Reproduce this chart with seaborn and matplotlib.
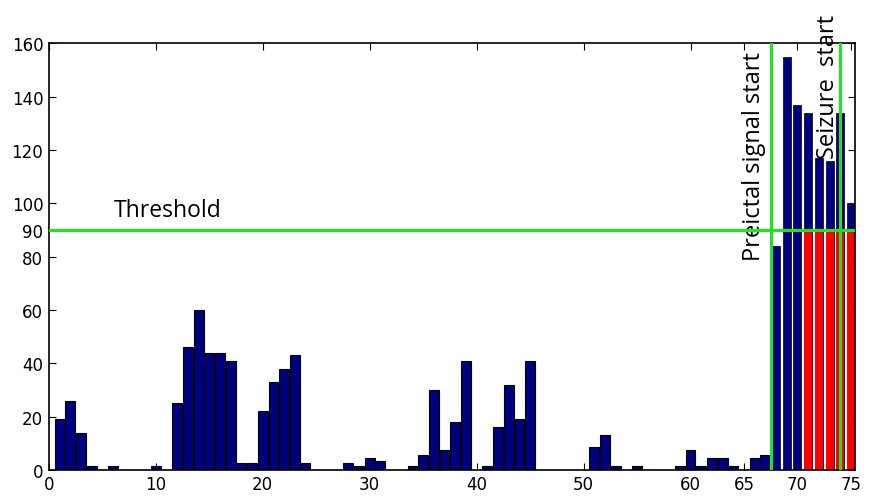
import numpy as np
import matplotlib
matplotlib.use("Agg")
import matplotlib.pyplot as plt
import seaborn as sns

# ── Data ────────────────────────────────────────────────────────────────────
positions = list(range(1, 76))
counts = [
    19, 26, 14, 1.5, 0, 1.5, 0, 0, 0, 1.5,          # 1-10
    0, 25, 46, 60, 44, 44, 41, 2.5, 2.5, 22,        # 11-20
    33, 38, 43, 2.5, 0, 0, 0, 2.5, 1.5, 4.5,        # 21-30
    3.5, 0, 0, 1.5, 5.5, 30, 7.5, 18, 41, 0,        # 31-40
    1.5, 16, 32, 19, 41, 0, 0, 0, 0, 0,             # 41-50
    8.5, 13, 1.5, 0, 1.5, 0, 0, 0, 1.5, 7.5,        # 51-60
    1.5, 4.5, 4.5, 1.5, 0, 4.5, 5.5, 84, 155, 137,  # 61-70
    134, 117, 116, 134, 100,                        # 71-75
]
threshold = 90
preictal_start = 67.5
seizure_start = 74
alarm_from = 71          # bars from here on exceed the threshold (red part)

x_ticks = [0, 10, 20, 30, 40, 50, 60, 65, 70, 75]
y_ticks = [0, 20, 40, 60, 80, 90, 100, 120, 140, 160]

BLUE = "#00007F"
RED = "#FF0000"
GREEN = "#1EE61E"

sns.set_style("white")
plt.rcParams["font.family"] = ["DejaVu Sans"]
plt.rcParams["text.color"] = "black"
plt.rcParams["xtick.color"] = "black"
plt.rcParams["ytick.color"] = "black"

fig = plt.figure(figsize=(8.89, 5.02), dpi=100)
ax = fig.add_axes([0.055, 0.062, 0.907, 0.850])

pos = np.array(positions)
val = np.array(counts, dtype=float)
early = pos < 68
late = ~early

# ── Bars ──────────────────────────────────────────────────────────────────
sns.barplot(x=pos[early], y=val[early], native_scale=True, width=0.92,
            color=BLUE, saturation=1, edgecolor="black", linewidth=0.8, ax=ax)
sns.barplot(x=pos[late], y=val[late], native_scale=True, width=0.75,
            color=BLUE, saturation=1, edgecolor="#101040", linewidth=0.6, ax=ax)
alarm = pos >= alarm_from
sns.barplot(x=pos[alarm], y=np.minimum(val[alarm], threshold), native_scale=True,
            width=0.75, color=RED, saturation=1, linewidth=0, ax=ax)

# ── Threshold & event markers ─────────────────────────────────────────────
ax.axhline(threshold, color=GREEN, lw=2.2, zorder=5)
ax.axvline(preictal_start, color=GREEN, lw=2.2, zorder=5)
ax.axvline(seizure_start, color=GREEN, lw=2.2, zorder=5)

ax.text(6.1, 97.5, "Threshold", fontsize=16.5, family="Open Sans",
        color="black", ha="left", va="center")
ax.text(65.9, 118, "Preictal signal start", fontsize=17, family="Open Sans",
        color="black", rotation=90, ha="center", va="center", clip_on=False)
ax.text(72.9, 144, "Seizure  start", fontsize=17, family="Open Sans",
        color="black", rotation=90, ha="center", va="center", clip_on=False)

# ── Axes styling (MATLAB-like boxed axes) ─────────────────────────────────
ax.set_xlim(0, 75.4)
ax.set_ylim(0, 160)
ax.set_xticks(x_ticks)
ax.set_yticks(y_ticks)
ax.set_xticklabels([str(t) for t in x_ticks], fontsize=12)
ax.set_yticklabels([str(t) for t in y_ticks], fontsize=12)
ax.set_xlabel("")
ax.set_ylabel("")
ax.tick_params(direction="in", length=5, width=0.8, top=True, right=True,
               bottom=True, left=True, pad=4, colors="black")
for side in ax.spines.values():
    side.set_visible(True)
    side.set_color("black")
    side.set_linewidth(1.2)
ax.grid(False)

fig.savefig("out.png", dpi=100)
plt.close(fig)
